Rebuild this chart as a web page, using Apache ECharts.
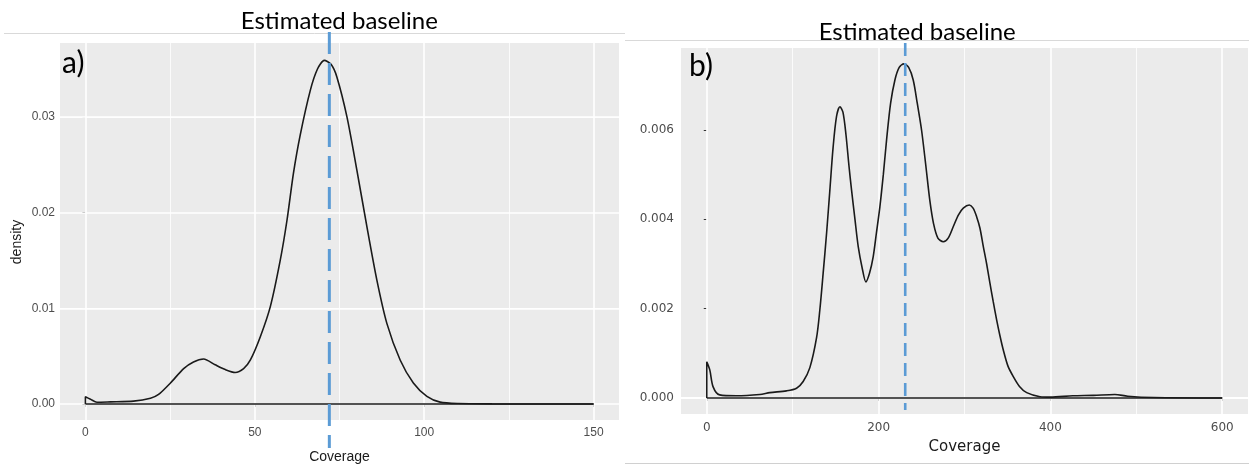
<!DOCTYPE html>
<html>
<head>
<meta charset="utf-8">
<script src="https://cdn.jsdelivr.net/npm/echarts@6/dist/echarts.min.js"></script>
<style>
  html, body { margin: 0; padding: 0; background: #ffffff; }
  #chart { width: 1249px; height: 466px; }
</style>
</head>
<body>
<div id="chart"></div>
<script>
// ---------- Panel a data ----------
const covA = [0, 1.5, 3.4, 7.4, 14.2, 19.2, 21.6, 25.1, 29, 31.9, 34.9, 38.3, 41.3, 44.2, 46.7, 48.7, 51.6, 54.6, 57.5, 59.5, 61.4, 63.4, 66.4, 68.5, 70.5, 72.5, 74.2, 77.2, 80.1, 83.1, 86, 89, 92.9, 96.8, 100.8, 104.7, 110, 120, 135, 150];
const densA = [0.00075, 0.0005, 0.00018, 0.00022, 0.0003, 0.0006, 0.001, 0.0022, 0.0037, 0.0044, 0.0047, 0.0041, 0.0036, 0.0033, 0.0037, 0.0046, 0.007, 0.0102, 0.015, 0.0192, 0.0241, 0.0281, 0.0328, 0.035, 0.0359, 0.0355, 0.0342, 0.03, 0.0245, 0.0185, 0.013, 0.0084, 0.0046, 0.0022, 0.0008, 0.0002, 0.00005, 0.00001, 0.000003, 0];
const baselineA = 72;
const xTicksA = [0, 50, 100, 150];
const xMinorA = [25, 75, 125];
const yTicksA = [0, 0.01, 0.02, 0.03];
const yMinorA = [0.005, 0.015, 0.025, 0.035];

// ---------- Panel b data ----------
const covB = [0, 3.5, 7.4, 15, 34.6, 61.7, 73.4, 92.8, 104.5, 112.2, 120, 127.8, 131.6, 135.5, 139.5, 143.3, 147, 151, 155, 158.5, 162, 165.5, 168.5, 172.5, 176.3, 181, 185.2, 189.5, 193.7, 197.5, 201.5, 205.5, 209.3, 214, 219, 224, 229.5, 235, 240.3, 245, 250, 255, 259.8, 264, 269, 275.3, 281, 287, 293, 298.6, 305.6, 310, 314.1, 318, 321.9, 325.8, 329.6, 333.5, 337.4, 341.2, 345.1, 350.5, 356.8, 364, 372.4, 387.9, 400, 426, 450, 475, 490, 520, 600];
const densB = [0.00081, 0.00063, 0.00025, 0.00007, 0.00005, 0.00008, 0.00012, 0.00016, 0.00022, 0.00037, 0.00068, 0.00135, 0.00197, 0.0028, 0.0037, 0.00466, 0.0056, 0.0063, 0.00652, 0.0064, 0.0059, 0.0052, 0.00466, 0.004, 0.00339, 0.0029, 0.0026, 0.0028, 0.00316, 0.0037, 0.00428, 0.0050, 0.00578, 0.0066, 0.00712, 0.0074, 0.00748, 0.0074, 0.00712, 0.0066, 0.006, 0.0052, 0.0044, 0.0039, 0.00358, 0.0035, 0.00358, 0.00384, 0.0041, 0.00425, 0.00432, 0.00425, 0.00406, 0.0038, 0.00339, 0.003, 0.00257, 0.00215, 0.00175, 0.0014, 0.00108, 0.00072, 0.00048, 0.00026, 0.00012, 0.00003, 0.00002, 0.00005, 0.00006, 0.00008, 0.00004, 0.00001, 0];
const baselineB = 231;
const xTicksB = [0, 200, 400, 600];
const xMinorB = [100, 300, 500];
const yTicksB = [0, 0.002, 0.004, 0.006];
const yMinorB = [0.001, 0.003, 0.005, 0.007];

const panelTitle = 'Estimated baseline';
const xName = 'Coverage';
const yName = 'density';

// ---------- build ----------
const chart = echarts.init(document.getElementById('chart'), null, { renderer: 'canvas' });

function curve(xs, ys) {
  const pts = [[xs[0], 0]];
  xs.forEach((x, i) => pts.push([x, ys[i]]));
  return pts;
}
function gridLines(xi, vx, vy, width) {
  return {
    type: 'line', xAxisIndex: xi, yAxisIndex: xi, data: [], silent: true, z: 1,
    markLine: {
      silent: true, symbol: ['none', 'none'], label: { show: false }, z: 1,
      emphasis: { disabled: true },
      animation: false,
      lineStyle: { color: '#ffffff', width: width, type: 'solid', opacity: 1 },
      data: vx.map(v => ({ xAxis: v })).concat(vy.map(v => ({ yAxis: v })))
    }
  };
}
const tickStyle = { show: true, length: 3, lineStyle: { color: '#333333', width: 1 } };

const option = {
  animation: false,
  grid: [
    { left: 60, top: 43, width: 559, height: 377, show: true, backgroundColor: '#EBEBEB', borderWidth: 0 },
    { left: 681, top: 48, width: 567, height: 366, show: true, backgroundColor: '#EBEBEB', borderWidth: 0 }
  ],
  xAxis: [
    { type: 'value', gridIndex: 0, min: -7.5, max: 157.5,
      splitLine: { show: false }, axisLine: { show: false },
      axisTick: Object.assign({ customValues: xTicksA }, tickStyle),
      axisLabel: { customValues: xTicksA, color: '#4D4D4D', fontFamily: 'Liberation Sans', fontSize: 12, margin: 7 } },
    { type: 'value', gridIndex: 1, min: -30, max: 630,
      splitLine: { show: false }, axisLine: { show: false },
      axisTick: Object.assign({ customValues: xTicksB }, tickStyle),
      axisLabel: { customValues: xTicksB, color: '#4D4D4D', fontFamily: 'DejaVu Sans', fontSize: 12, margin: 8 } }
  ],
  yAxis: [
    { type: 'value', gridIndex: 0, min: -0.00167, max: 0.03772,
      splitLine: { show: false }, axisLine: { show: false },
      axisTick: Object.assign({ customValues: yTicksA }, tickStyle),
      axisLabel: { customValues: yTicksA, formatter: v => v.toFixed(2), color: '#4D4D4D', fontFamily: 'Liberation Sans', fontSize: 12, margin: 5 } },
    { type: 'value', gridIndex: 1, min: -0.000358, max: 0.007836,
      splitLine: { show: false }, axisLine: { show: false },
      axisTick: Object.assign({ customValues: yTicksB }, tickStyle),
      axisLabel: { customValues: yTicksB, formatter: v => v.toFixed(3), color: '#4D4D4D', fontFamily: 'DejaVu Sans', fontSize: 12, margin: 7 } }
  ],
  series: [
    gridLines(0, xMinorA, yMinorA, 0.8),
    gridLines(0, xTicksA, yTicksA, 1.6),
    gridLines(1, xMinorB, yMinorB, 0.8),
    gridLines(1, xTicksB, yTicksB, 1.6),
    { type: 'line', xAxisIndex: 0, yAxisIndex: 0, z: 10, silent: true, showSymbol: false, smooth: 0.25,
      data: curve(covA, densA), lineStyle: { color: '#1A1A1A', width: 1.6 } },
    { type: 'line', xAxisIndex: 0, yAxisIndex: 0, z: 10, silent: true, showSymbol: false,
      data: [[covA[0], 0], [covA[covA.length - 1], 0]], lineStyle: { color: '#1A1A1A', width: 1.6 } },
    { type: 'line', xAxisIndex: 1, yAxisIndex: 1, z: 10, silent: true, showSymbol: false, smooth: 0.3,
      data: curve(covB, densB), lineStyle: { color: '#1A1A1A', width: 1.6 } },
    { type: 'line', xAxisIndex: 1, yAxisIndex: 1, z: 10, silent: true, showSymbol: false,
      data: [[covB[0], 0], [covB[covB.length - 1], 0]], lineStyle: { color: '#1A1A1A', width: 1.6 } }
  ]
};
chart.setOption(option);

// annotations positioned from the axis scales
const pxA = chart.convertToPixel({ xAxisIndex: 0 }, baselineA);
const pxB = chart.convertToPixel({ xAxisIndex: 1 }, baselineB);
const centerA = chart.convertToPixel({ xAxisIndex: 0 }, 75);
const centerB = chart.convertToPixel({ xAxisIndex: 1 }, 300);

chart.setOption({
  graphic: [
    // slide frame lines
    { type: 'line', shape: { x1: 4, y1: 33.5, x2: 625, y2: 33.5 }, style: { stroke: '#D9D9D9', lineWidth: 1 }, z: 0 },
    { type: 'line', shape: { x1: 625, y1: 40.5, x2: 1249, y2: 40.5 }, style: { stroke: '#D9D9D9', lineWidth: 1 }, z: 0 },
    { type: 'line', shape: { x1: 625, y1: 463.5, x2: 1249, y2: 463.5 }, style: { stroke: '#D0D0D0', lineWidth: 1 }, z: 0 },
    // dashed baseline markers
    { type: 'line', shape: { x1: pxA, y1: 32, x2: pxA, y2: 448 }, style: { stroke: '#5B9BD5', lineWidth: 3, lineDash: [22, 9] }, z: 20 },
    { type: 'line', shape: { x1: pxB, y1: 43, x2: pxB, y2: 410 }, style: { stroke: '#5B9BD5', lineWidth: 2.6, lineDash: [13, 7] }, z: 20 },
    // titles
    { type: 'text', x: pxA + 10, y: 21, style: { text: panelTitle, font: '24px Lato', fill: '#000000', textAlign: 'center', textVerticalAlign: 'middle' }, z: 20 },
    { type: 'text', x: pxB + 12, y: 32, style: { text: panelTitle, font: '24px Lato', fill: '#000000', textAlign: 'center', textVerticalAlign: 'middle' }, z: 20 },
    { type: 'text', x: 62, y: 63, style: { text: 'a)', font: '30px Lato', fill: '#000000', textAlign: 'left', textVerticalAlign: 'middle' }, z: 20 },
    { type: 'text', x: 689, y: 66, style: { text: 'b)', font: '30px Lato', fill: '#000000', textAlign: 'left', textVerticalAlign: 'middle' }, z: 20 },
    // axis titles
    { type: 'text', x: centerA, y: 457, style: { text: xName, font: '14px "Liberation Sans"', fill: '#1A1A1A', textAlign: 'center', textVerticalAlign: 'middle' }, z: 20 },
    { type: 'text', x: centerB, y: 447, style: { text: xName, font: '15px "DejaVu Sans"', fill: '#1A1A1A', textAlign: 'center', textVerticalAlign: 'middle' }, z: 20 },
    { type: 'text', x: 17, y: 242, rotation: Math.PI / 2, style: { text: yName, font: '14px "Liberation Sans"', fill: '#1A1A1A', textAlign: 'center', textVerticalAlign: 'middle' }, z: 20 }
  ]
});
</script>
</body>
</html>
